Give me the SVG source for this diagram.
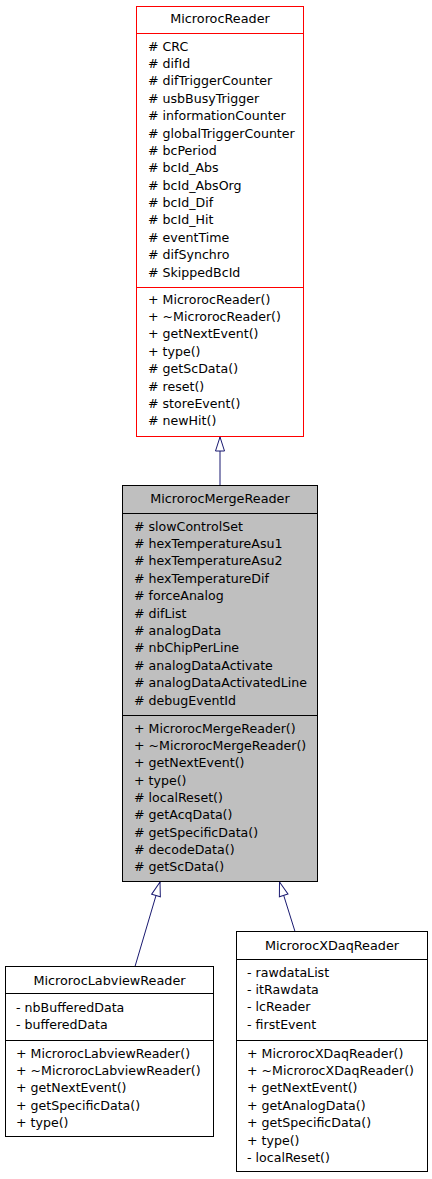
<svg xmlns="http://www.w3.org/2000/svg" width="432" height="1179" viewBox="0 0 432 1179">
<style>
text{font-family:"DejaVu Sans","Liberation Sans",sans-serif;font-size:12.6px;fill:#000}
.t{text-anchor:middle;font-size:12.8px}
.box{fill:#fff;stroke:#000;stroke-width:1}
.red{fill:#fff;stroke:#ff0000;stroke-width:1}
.grey{fill:#bfbfbf;stroke:#000;stroke-width:1}
.sep{stroke:#000;stroke-width:1}
.sepr{stroke:#ff0000;stroke-width:1}
.edge{stroke:#191970;stroke-width:1;fill:none}
</style>
<defs>
<marker id="inh" markerUnits="userSpaceOnUse" viewBox="0 0 14 10" refX="14" refY="5" markerWidth="14" markerHeight="10" orient="auto" overflow="visible">
<path d="M0,0.5 L14,5 L0,9.5 Z" fill="#fff" stroke="#191970" stroke-width="1"/>
</marker>
</defs>
<g id="edges">
<line class="edge" x1="220" y1="485.5" x2="220" y2="437" marker-end="url(#inh)"/>
<line class="edge" x1="135" y1="966.5" x2="160" y2="882" marker-end="url(#inh)"/>
<line class="edge" x1="295" y1="931.5" x2="279.5" y2="882" marker-end="url(#inh)"/>
</g>
<g id="MicrorocReader">
<rect class="red" x="136.5" y="6.5" width="167" height="430"/>
<line class="sepr" x1="136.5" y1="33.5" x2="303.5" y2="33.5"/>
<line class="sepr" x1="136.5" y1="287.5" x2="303.5" y2="287.5"/>
<text class="t" x="220" y="22.5">MicrorocReader</text>
<text>
<tspan x="148" y="50.5"># CRC</tspan>
<tspan x="148" y="67.9"># difId</tspan>
<tspan x="148" y="85.3"># difTriggerCounter</tspan>
<tspan x="148" y="102.7"># usbBusyTrigger</tspan>
<tspan x="148" y="120.1"># informationCounter</tspan>
<tspan x="148" y="137.5"># globalTriggerCounter</tspan>
<tspan x="148" y="154.9"># bcPeriod</tspan>
<tspan x="148" y="172.2"># bcId_Abs</tspan>
<tspan x="148" y="189.6"># bcId_AbsOrg</tspan>
<tspan x="148" y="207"># bcId_Dif</tspan>
<tspan x="148" y="224.4"># bcId_Hit</tspan>
<tspan x="148" y="241.8"># eventTime</tspan>
<tspan x="148" y="259.2"># difSynchro</tspan>
<tspan x="148" y="276.5"># SkippedBcId</tspan>
</text>
<text>
<tspan x="148" y="303.5">+ MicrorocReader()</tspan>
<tspan x="148" y="320.9">+ ~MicrorocReader()</tspan>
<tspan x="148" y="338.3">+ getNextEvent()</tspan>
<tspan x="148" y="355.7">+ type()</tspan>
<tspan x="148" y="373.1"># getScData()</tspan>
<tspan x="148" y="390.5"># reset()</tspan>
<tspan x="148" y="407.9"># storeEvent()</tspan>
<tspan x="148" y="425.3"># newHit()</tspan>
</text>
</g>
<g id="MicrorocMergeReader">
<rect class="grey" x="122.5" y="485.5" width="195" height="396"/>
<line class="sep" x1="122.5" y1="513.5" x2="317.5" y2="513.5"/>
<line class="sep" x1="122.5" y1="715.5" x2="317.5" y2="715.5"/>
<text class="t" x="220" y="502.5">MicrorocMergeReader</text>
<text>
<tspan x="134" y="530.5"># slowControlSet</tspan>
<tspan x="134" y="547.9"># hexTemperatureAsu1</tspan>
<tspan x="134" y="565.3"># hexTemperatureAsu2</tspan>
<tspan x="134" y="582.7"># hexTemperatureDif</tspan>
<tspan x="134" y="600.1"># forceAnalog</tspan>
<tspan x="134" y="617.5"># difList</tspan>
<tspan x="134" y="634.9"># analogData</tspan>
<tspan x="134" y="652.3"># nbChipPerLine</tspan>
<tspan x="134" y="669.7"># analogDataActivate</tspan>
<tspan x="134" y="687.1"># analogDataActivatedLine</tspan>
<tspan x="134" y="704.5"># debugEventId</tspan>
</text>
<text>
<tspan x="134" y="732.5">+ MicrorocMergeReader()</tspan>
<tspan x="134" y="749.9">+ ~MicrorocMergeReader()</tspan>
<tspan x="134" y="767.2">+ getNextEvent()</tspan>
<tspan x="134" y="784.6">+ type()</tspan>
<tspan x="134" y="801.9"># localReset()</tspan>
<tspan x="134" y="819.3"># getAcqData()</tspan>
<tspan x="134" y="836.6"># getSpecificData()</tspan>
<tspan x="134" y="854"># decodeData()</tspan>
<tspan x="134" y="871.3"># getScData()</tspan>
</text>
</g>
<g id="MicrorocLabviewReader">
<rect class="box" x="5.5" y="966.5" width="208" height="170"/>
<line class="sep" x1="5.5" y1="993.5" x2="213.5" y2="993.5"/>
<line class="sep" x1="5.5" y1="1040.5" x2="213.5" y2="1040.5"/>
<text class="t" x="109.5" y="984.5">MicrorocLabviewReader</text>
<text>
<tspan x="16" y="1011.5">- nbBufferedData</tspan>
<tspan x="16" y="1028.7">- bufferedData</tspan>
</text>
<text>
<tspan x="16" y="1057.5">+ MicrorocLabviewReader()</tspan>
<tspan x="16" y="1074.9">+ ~MicrorocLabviewReader()</tspan>
<tspan x="16" y="1092.3">+ getNextEvent()</tspan>
<tspan x="16" y="1109.7">+ getSpecificData()</tspan>
<tspan x="16" y="1127.1">+ type()</tspan>
</text>
</g>
<g id="MicrorocXDaqReader">
<rect class="box" x="236.5" y="931.5" width="191" height="240"/>
<line class="sep" x1="236.5" y1="959.5" x2="427.5" y2="959.5"/>
<line class="sep" x1="236.5" y1="1040.5" x2="427.5" y2="1040.5"/>
<text class="t" x="332" y="949.5">MicrorocXDaqReader</text>
<text>
<tspan x="247" y="976.5">- rawdataList</tspan>
<tspan x="247" y="993.9">- itRawdata</tspan>
<tspan x="247" y="1011.3">- lcReader</tspan>
<tspan x="247" y="1028.7">- firstEvent</tspan>
</text>
<text>
<tspan x="247" y="1057.5">+ MicrorocXDaqReader()</tspan>
<tspan x="247" y="1074.9">+ ~MicrorocXDaqReader()</tspan>
<tspan x="247" y="1092.3">+ getNextEvent()</tspan>
<tspan x="247" y="1109.7">+ getAnalogData()</tspan>
<tspan x="247" y="1127.1">+ getSpecificData()</tspan>
<tspan x="247" y="1144.5">+ type()</tspan>
<tspan x="247" y="1161.9">- localReset()</tspan>
</text>
</g>
</svg>
